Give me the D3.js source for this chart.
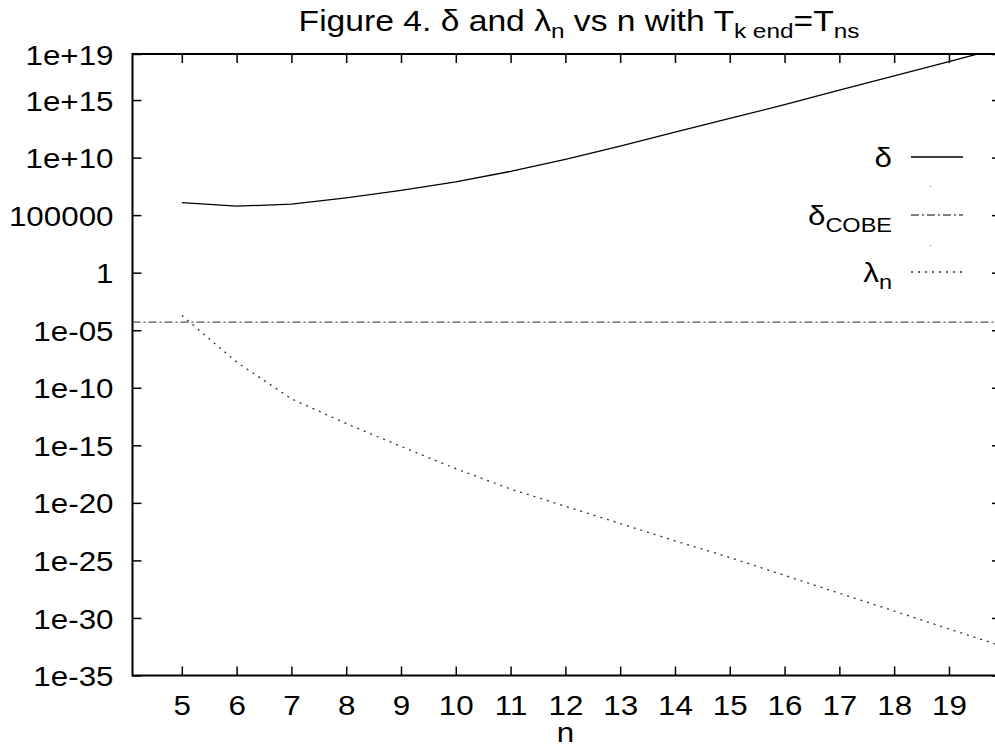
<!DOCTYPE html>
<html lang="en">
<head>
  <meta charset="utf-8" />
  <title>Figure 4</title>
  <style>
    body {
      margin: 0;
      background: #fff;
      font-family: "Liberation Sans", Arial, sans-serif;
    }
    svg text {
      fill: #000;
    }
    .axis path.domain {
      display: none;
    }
    .axis line {
      stroke: #000;
      stroke-width: 1.5px;
    }
  </style>
</head>
<body>
  <div id="graphic"></div>

  <script src="https://cdn.jsdelivr.net/npm/d3@7/dist/d3.min.js"></script>
  <script>
    // n values and curves
    var nValues = [5, 6, 7, 8, 9, 10, 11, 12, 13, 14, 15, 16, 17, 18, 19, 20];
    var deltaValues = [1.2e6, 6e5, 9e5, 3.2e6, 1.4e7, 7.9e7, 6.3e8, 7.1e9, 1e11, 1.6e12, 2.5e13, 4e14, 7.1e15, 1.26e17, 2.2e18, 4e19];
    var lambdaValues = [1.9e-4, 1.7e-8, 1.1e-11, 7.8e-14, 8.1e-16, 9.3e-18, 1.6e-19, 5e-21, 1.6e-22, 5e-24, 1.8e-25, 5e-27, 1.4e-28, 4e-30, 1.1e-31, 3.2e-33];
    var deltaCOBE = 5e-5;

    var xTicks = [5, 6, 7, 8, 9, 10, 11, 12, 13, 14, 15, 16, 17, 18, 19];
    var yTicks = [1e-35, 1e-30, 1e-25, 1e-20, 1e-15, 1e-10, 1e-5, 1, 1e5, 1e10, 1e15, 1e19];
    var yTickLabels = ['1e-35', '1e-30', '1e-25', '1e-20', '1e-15', '1e-10', '1e-05', '1', '100000', '1e+10', '1e+15', '1e+19'];

    var width = 995, height = 745;
    var margin = {top: 54, right: -6, bottom: 69.5, left: 132.5};
    var chart_width = width - margin.left - margin.right;
    var chart_height = height - margin.top - margin.bottom;
    var stretch = 1.12; // the original font is a little wider than Liberation Sans

    var x = d3.scaleLinear()
      .domain([4.1, 19.95])
      .range([0, chart_width]);

    var y = d3.scaleLog()
      .domain([1e-35, 1e19])
      .range([chart_height, 0]);

    var svg = d3.select('#graphic')
      .append('svg')
      .attr('width', width)
      .attr('height', height)
      .style('display', 'block');

    svg.append('defs').append('clipPath')
      .attr('id', 'clip')
      .append('rect')
      .attr('width', chart_width)
      .attr('height', chart_height);

    var g = svg.append('g')
      .attr('transform', 'translate(' + margin.left + ',' + margin.top + ')');

    // text with optional subscript, stretched sideways
    function label(px, py, anchor, size, sx, parts) {
      var t = svg.append('g')
        .attr('transform', 'translate(' + px + ',' + py + ') scale(' + sx + ',1)')
        .append('text')
        .attr('text-anchor', anchor)
        .attr('font-size', size);
      parts.forEach(function(p) {
        t.append('tspan')
          .attr('font-size', p.sub ? 21 : size)
          .attr('dy', p.sub ? 7 : (p.back ? -7 : 0))
          .text(p.text);
      });
      return t;
    }

    // title
    label(579, 31, 'middle', 29, 1.16, [
      {text: 'Figure 4. \u03b4 and \u03bb'},
      {text: 'n', sub: true},
      {text: ' vs n with T', back: true},
      {text: 'k end', sub: true},
      {text: '=T', back: true},
      {text: 'ns', sub: true}
    ]);

    // axes (ticks point inwards, mirrored on top and right)
    g.append('g')
      .attr('class', 'y axis')
      .call(d3.axisLeft(y)
        .tickValues(yTicks)
        .tickSize(-9)
        .tickPadding(19)
        .tickFormat(function(d, i) { return yTickLabels[i]; }))
      .selectAll('text')
      .attr('font-family', 'Liberation Sans, Arial, sans-serif')
      .attr('font-size', 28)
      .attr('x', -19 / stretch)
      .attr('dy', '0.36em')
      .attr('transform', 'scale(' + stretch + ',1)');

    g.append('g')
      .attr('class', 'y axis')
      .attr('transform', 'translate(' + chart_width + ',0)')
      .call(d3.axisRight(y).tickValues(yTicks).tickSize(-9).tickFormat(''));

    g.append('g')
      .attr('class', 'x axis')
      .attr('transform', 'translate(0,' + chart_height + ')')
      .call(d3.axisBottom(x)
        .tickValues(xTicks)
        .tickSize(-9)
        .tickFormat(d3.format('d')))
      .selectAll('text')
      .attr('font-family', 'Liberation Sans, Arial, sans-serif')
      .attr('font-size', 28)
      .attr('y', 29)
      .attr('dy', '0.36em')
      .attr('transform', 'scale(' + stretch + ',1)');

    g.append('g')
      .attr('class', 'x axis')
      .call(d3.axisTop(x).tickValues(xTicks).tickSize(-9).tickFormat(''));

    g.append('rect')
      .attr('width', chart_width)
      .attr('height', chart_height)
      .attr('fill', 'none')
      .attr('stroke', '#000')
      .attr('stroke-width', 2);

    label(margin.left + x(12), 742, 'middle', 28, stretch, [{text: 'n'}]);

    // curves
    var line = d3.line()
      .x(function(d) { return x(d[0]); })
      .y(function(d) { return y(d[1]); });

    var plot = g.append('g').attr('clip-path', 'url(#clip)');

    plot.append('path')
      .datum(nValues.map(function(n, i) { return [n, deltaValues[i]]; }))
      .attr('d', line)
      .attr('fill', 'none')
      .attr('stroke', '#000')
      .attr('stroke-width', 1.3);

    plot.append('line')
      .attr('x1', 0)
      .attr('x2', chart_width)
      .attr('y1', y(deltaCOBE))
      .attr('y2', y(deltaCOBE))
      .attr('stroke', '#555')
      .attr('stroke-width', 1.3)
      .attr('stroke-dasharray', '8,3,2,3');

    plot.append('path')
      .datum(nValues.map(function(n, i) { return [n, lambdaValues[i]]; }))
      .attr('d', line)
      .attr('fill', 'none')
      .attr('stroke', '#333')
      .attr('stroke-width', 1.3)
      .attr('stroke-dasharray', '2,5');

    // key
    var keyItems = [
      {label: '\u03b4', sub: '', dash: null, colour: '#000', y: 157},
      {label: '\u03b4', sub: 'COBE', dash: '8,3,2,3', colour: '#555', y: 215},
      {label: '\u03bb', sub: 'n', dash: '2,5', colour: '#333', y: 272}
    ];

    keyItems.forEach(function(k) {
      var parts = [{text: k.label}];
      if (k.sub) parts.push({text: k.sub, sub: true});
      label(892, k.y + 10, 'end', 28, stretch, parts);
      svg.append('line')
        .attr('x1', 911)
        .attr('x2', 963)
        .attr('y1', k.y)
        .attr('y2', k.y)
        .attr('stroke', k.colour)
        .attr('stroke-width', 1.3)
        .attr('stroke-dasharray', k.dash);
    });

    [186, 245].forEach(function(py) {
      svg.append('rect')
        .attr('x', 930)
        .attr('y', py)
        .attr('width', 1)
        .attr('height', 1)
        .attr('fill', '#666');
    });
  </script>
</body>
</html>
